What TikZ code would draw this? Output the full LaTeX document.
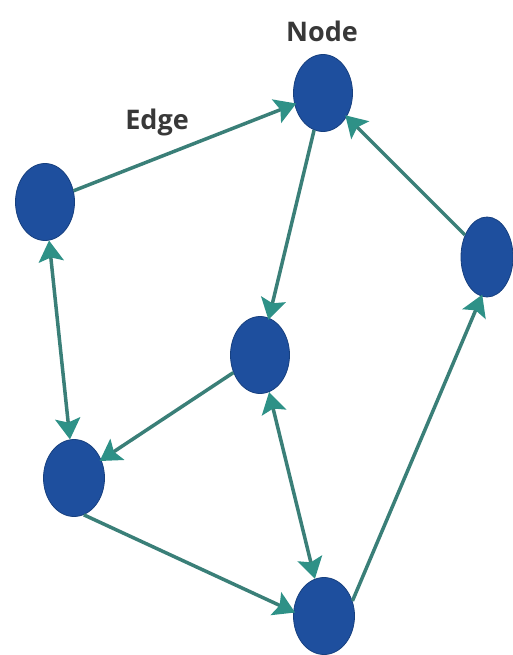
\documentclass[tikz,border=0pt]{standalone}
\usepackage{fontspec}
\setmainfont{Open Sans}
\usepackage{tikz}
\usetikzlibrary{arrows.meta,shapes.geometric}
\definecolor{vblue}{HTML}{1e4f9e}
\definecolor{vedge}{HTML}{17407f}
\definecolor{lteal}{HTML}{3a7f78}
\definecolor{hteal}{HTML}{2e9187}
\definecolor{tgray}{HTML}{383838}

\begin{document}
\begin{tikzpicture}[x=1pt,y=-1pt,
  vertex/.style={ellipse,fill=vblue,draw=vedge,line width=0.8pt,minimum width=59pt,minimum height=77pt,inner sep=0pt},
  tag/.style={font=\fontsize{27}{30}\selectfont\bfseries,text=tgray,inner sep=0pt},
  link/.style={-{Stealth[length=21pt,width=25pt,inset=4pt,color=hteal]},line width=3.5pt,color=lteal,shorten >=-2pt},
  dlink/.style={{Stealth[length=21pt,width=25pt,inset=4pt,color=hteal]}-{Stealth[length=21pt,width=25pt,inset=4pt,color=hteal]},line width=3.5pt,color=lteal}]
\useasboundingbox (0,0) rectangle (512,655);
\node[vertex](top) at (323,93){};
\node[vertex](left) at (45,202){};
\node[vertex,minimum width=52pt,minimum height=80pt](right) at (487,257){};
\node[vertex](mid) at (260,355){};
\node[vertex,minimum width=61pt](lowl) at (74,478){};
\node[vertex,minimum width=61pt](bot) at (324,616){};
\node[tag](nodelbl) at (322,31){Node};
\node[tag](edgelbl) at (157,122){Edge};
\foreach \a/\b in {left/top,top/mid,right/top,mid/lowl}
  \draw[link](\a)--(\b);
\draw[link](lowl.-75)--(bot.172);
\draw[link](bot.28)--(right.-98);
\foreach \a/\b in {left/lowl,mid/bot}
  \draw[dlink](\a)--(\b);
\end{tikzpicture}
\end{document}
